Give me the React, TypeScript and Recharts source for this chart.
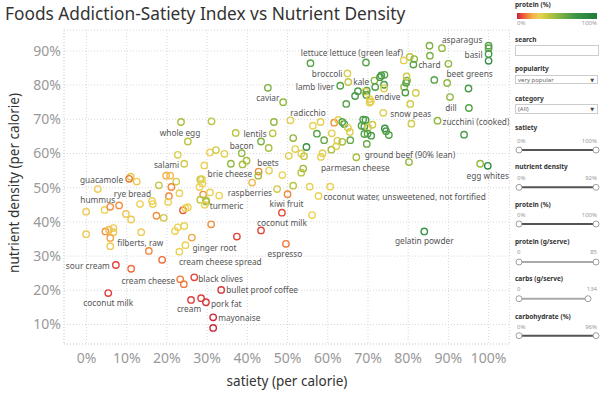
import React from 'react';
import { ScatterChart, Scatter, XAxis, YAxis, CartesianGrid } from 'recharts';

// ---------- data ----------
const X_TICKS = [0, 10, 20, 30, 40, 50, 60, 70, 80, 90, 100];
const Y_TICKS = [10, 20, 30, 40, 50, 60, 70, 80, 90];

// [name, satiety %, nutrient density %, protein %]
const labeledFoods: [string, number, number, number][] = [
  ['asparagus', 88.4, 90.8, 50],
  ['basil', 100.0, 89.1, 70],
  ['lettuce lettuce (green leaf)', 69.5, 86.6, 65],
  ['chard', 81.3, 86.0, 65],
  ['beet greens', 90.0, 86.2, 50],
  ['broccoli', 64.9, 83.4, 32],
  ['kale', 65.1, 80.9, 38],
  ['lamb liver', 63.1, 79.8, 65],
  ['caviar', 45.1, 79.2, 55],
  ['endive', 79.3, 77.8, 70],
  ['radicchio', 50.7, 69.7, 30],
  ['snow peas', 73.8, 71.9, 32],
  ['dill', 90.4, 76.5, 50],
  ['zucchini (cooked)', 87.3, 69.6, 50],
  ['whole egg', 23.5, 69.2, 45],
  ['lentils', 46.3, 65.9, 40],
  ['bacon', 38.6, 60.1, 50],
  ['salami', 24.3, 57.0, 35],
  ['beets', 45.4, 55.0, 30],
  ['brie cheese', 42.7, 53.5, 45],
  ['ground beef (90% lean)', 80.2, 57.5, 50],
  ['parmesan cheese', 67.1, 58.9, 45],
  ['egg whites', 99.8, 56.4, 85],
  ['guacamole', 10.6, 52.6, 12],
  ['hummus', 2.8, 49.6, 26],
  ['rye bread', 16.3, 46.1, 28],
  ['raspberries', 47.4, 49.6, 35],
  ['kiwi fruit', 50.0, 48.1, 14],
  ['turmeric', 29.4, 45.0, 28],
  ['coconut water, unsweetened, not fortified', 57.7, 47.6, 28],
  ['coconut milk', 48.6, 42.7, 6],
  ['filberts, raw', 5.9, 32.9, 26],
  ['ginger root', 24.6, 33.2, 28],
  ['cream cheese spread', 18.8, 28.9, 10],
  ['espresso', 49.6, 33.6, 12],
  ['gelatin powder', 84.0, 37.2, 75],
  ['sour cream', 7.3, 27.4, 5],
  ['cream cheese', 23.3, 23.2, 12],
  ['black olives', 26.8, 23.8, 5],
  ['bullet proof coffee', 33.5, 20.1, 3],
  ['coconut milk', 5.4, 19.2, 4],
  ['cream', 26.0, 17.2, 4],
  ['pork fat', 29.7, 16.5, 3],
  ['mayonaise', 31.5, 12.1, 1],
];

// [satiety %, nutrient density %, protein %]
const lowSatietyFoods: [number, number, number][] = [
  [31.1, 69.4, 40], [25.2, 63.5, 40], [22.7, 59.6, 32], [30.7, 60.3, 28], [32.2, 61.0, 35],
  [34.3, 59.9, 30], [29.3, 56.5, 28], [35.9, 57.0, 50], [38.8, 56.8, 45], [39.8, 57.9, 45],
  [37.1, 66.0, 40], [42.8, 54.7, 14], [41.2, 51.5, 20], [11.0, 53.2, 32], [12.5, 51.8, 26],
  [18.0, 50.7, 38], [19.8, 53.5, 20], [20.8, 53.5, 22], [22.3, 51.8, 34], [21.1, 50.2, 14],
  [23.1, 48.4, 28], [20.5, 47.5, 14], [28.3, 52.4, 38], [28.7, 52.5, 30], [28.1, 50.2, 28],
  [28.8, 51.2, 28], [29.0, 48.0, 15], [30.7, 48.6, 28], [33.0, 47.7, 28],
  [-0.1, 43.0, 26], [4.5, 43.5, 28], [5.9, 44.4, 15], [8.1, 44.8, 15], [9.8, 42.3, 25],
  [11.1, 40.7, 26], [13.3, 45.2, 28], [16.5, 45.2, 28], [20.3, 45.8, 28], [17.4, 41.8, 15],
  [19.2, 41.2, 36], [24.0, 43.4, 8], [24.6, 44.0, 28], [25.2, 44.3, 28], [28.3, 46.5, 40],
  [29.7, 46.3, 42], [29.8, 45.9, 45], [31.0, 39.3, 15], [-0.1, 36.4, 26], [4.7, 37.2, 16],
  [5.6, 37.7, 22], [6.7, 38.2, 26], [6.7, 37.0, 26], [5.9, 35.3, 18], [13.6, 37.0, 26],
  [15.5, 31.5, 14], [22.0, 37.3, 28], [22.7, 38.4, 28], [24.3, 38.8, 28], [26.2, 35.4, 18],
  [23.1, 31.3, 28], [37.4, 35.7, 5], [43.4, 37.5, 5], [11.1, 26.3, 10], [24.2, 21.8, 12],
  [28.5, 17.7, 4], [31.5, 9.0, 1],
];

const midSatietyFoods: [number, number, number][] = [
  [46.6, 69.2, 50], [43.4, 63.5, 55], [45.3, 61.6, 45],
  [56.1, 42.0, 28], [51.4, 50.6, 40], [55.5, 50.3, 28], [60.6, 50.3, 28],
  [55.7, 86.4, 65], [48.9, 75.0, 50], [56.3, 68.1, 28], [58.2, 69.2, 30], [61.6, 69.0, 15],
  [62.6, 69.8, 30], [57.3, 65.8, 65], [59.1, 63.9, 60], [51.4, 64.5, 50], [51.9, 61.3, 30],
  [54.7, 61.9, 75], [53.4, 60.0, 30], [54.1, 59.2, 38], [50.3, 59.3, 30], [58.7, 60.1, 30],
  [58.3, 59.0, 30], [60.9, 61.1, 45], [48.7, 53.7, 28], [53.9, 55.6, 48], [53.4, 54.4, 40],
  [61.0, 65.9, 30], [62.4, 63.7, 32], [63.6, 63.4, 45], [65.6, 63.9, 60], [62.1, 62.1, 32],
  [63.6, 69.2, 65], [64.1, 68.6, 65], [65.0, 67.5, 32], [65.5, 66.3, 32], [64.6, 74.5, 65],
];

const highSatietyFoods: [number, number, number][] = [
  [85.3, 91.5, 55], [100.0, 91.5, 65], [100.0, 90.8, 65], [100.0, 87.1, 80], [80.4, 88.2, 40],
  [81.5, 87.6, 50], [85.4, 88.6, 55], [78.9, 87.2, 30],
  [71.6, 81.3, 50], [73.0, 82.3, 70], [73.3, 82.8, 70], [74.1, 83.0, 65], [74.0, 80.1, 70],
  [74.0, 79.0, 32], [71.8, 79.4, 70], [69.7, 78.4, 65], [69.3, 78.1, 35], [67.5, 78.2, 70],
  [66.8, 76.8, 70], [69.6, 77.1, 65], [70.4, 75.9, 30], [70.7, 75.2, 30], [70.4, 74.9, 30],
  [79.0, 79.4, 50], [79.5, 80.7, 70], [79.7, 81.3, 60], [79.6, 82.5, 35], [81.9, 77.7, 35],
  [80.5, 74.5, 35], [86.5, 81.5, 65], [89.7, 80.6, 50], [95.0, 79.0, 70], [95.1, 73.3, 65],
  [68.8, 69.9, 70], [69.4, 69.8, 70], [69.1, 67.9, 70], [68.4, 68.1, 65], [70.0, 67.6, 35],
  [71.1, 68.4, 35], [74.2, 67.3, 80], [74.5, 66.5, 70], [80.8, 68.7, 35], [69.1, 65.7, 65],
  [69.9, 65.8, 65], [70.8, 65.2, 70], [75.2, 65.4, 65], [69.7, 62.8, 60], [93.9, 65.5, 70],
  [97.9, 57.0, 50],
];

// ---------- label placement (text offsets from the mark) ----------
const LABEL_PLACEMENT: Record<string, [number, number, 'start' | 'middle' | 'end']> = {
  'asparagus': [0, -9, 'start'],
  'basil': [-6, 1, 'end'],
  'lettuce lettuce (green leaf)': [-14, -10, 'middle'],
  'chard': [5, 0, 'start'],
  'beet greens': [-2, 10, 'start'],
  'broccoli': [-5, 0, 'end'],
  'kale': [5, 0, 'start'],
  'lamb liver': [-6, 1, 'end'],
  'caviar': [0, 10, 'middle'],
  'endive': [-5, 4, 'end'],
  'radicchio': [0, -8, 'start'],
  'snow peas': [7, 1, 'start'],
  'dill': [1, 10, 'middle'],
  'zucchini (cooked)': [5, 1, 'start'],
  'whole egg': [-1, 10, 'middle'],
  'lentils': [-6, 0, 'end'],
  'bacon': [0, -8, 'middle'],
  'salami': [-5, 1, 'end'],
  'beets': [-1, -8.5, 'middle'],
  'brie cheese': [-6, -2, 'end'],
  'ground beef (90% lean)': [1, -8, 'middle'],
  'parmesan cheese': [-1, 10, 'middle'],
  'egg whites': [0, 10, 'middle'],
  'guacamole': [-6, 1, 'end'],
  'hummus': [0, 10, 'middle'],
  'rye bread': [-1, -8, 'end'],
  'raspberries': [-5, 3, 'end'],
  'kiwi fruit': [-1, 9.5, 'middle'],
  'turmeric': [5, 1, 'start'],
  'coconut water, unsweetened, not fortified': [5, 1, 'start'],
  'coconut milk': [0, 9.5, 'middle'],
  'filberts, raw': [7, -4, 'start'],
  'ginger root': [7, 2, 'start'],
  'cream cheese spread': [17, 2, 'start'],
  'espresso': [-1, 10, 'middle'],
  'gelatin powder': [0, 9.5, 'middle'],
  'sour cream': [-6, 1, 'end'],
  'cream cheese': [-5, 1, 'end'],
  'black olives': [4, 1, 'start'],
  'bullet proof coffee': [5, 0, 'start'],
  'cream': [-2, 9, 'middle'],
  'pork fat': [5, 1, 'start'],
  'mayonaise': [5, 0, 'start'],
};

// ---------- colour scale for protein % ----------
const PROTEIN_STOPS: [number, string][] = [
  [0, '#c81e3c'], [5, '#e2463a'], [10, '#ee6c3a'], [15, '#f29040'], [20, '#f3b54a'],
  [28, '#ebd256'], [35, '#d0cb48'], [42, '#b3c240'], [50, '#92b93f'], [62, '#5fa748'],
  [75, '#3a9446'], [100, '#1f7a3c'],
];
const hex = (h: string) => [1, 3, 5].map((i) => parseInt(h.slice(i, i + 2), 16));
function proteinColor(p: number): string {
  for (let i = 1; i < PROTEIN_STOPS.length; i++) {
    const [p1, c1] = PROTEIN_STOPS[i];
    const [p0, c0] = PROTEIN_STOPS[i - 1];
    if (p <= p1) {
      const t = Math.max(0, (p - p0) / (p1 - p0));
      const a = hex(c0), b = hex(c1);
      const m = a.map((v, k) => Math.round(v + (b[k] - v) * t));
      return `rgb(${m[0]},${m[1]},${m[2]})`;
    }
  }
  return PROTEIN_STOPS[PROTEIN_STOPS.length - 1][1];
}

const FONT = '"Noto Sans", "DejaVu Sans", sans-serif';

const pointData = [
  ...[...lowSatietyFoods, ...midSatietyFoods, ...highSatietyFoods].map(([s, d, p]) => ({ s, d, p, name: '' })),
  ...labeledFoods.map(([name, s, d, p]) => ({ s, d, p, name })),
];
const labelData = labeledFoods.map(([name, s, d, p]) => ({ s, d, p, name }));

const Ring = (props: any) => {
  const { cx, cy, payload } = props;
  if (cx == null || cy == null) return <g />;
  return <circle cx={cx} cy={cy} r={3.2} fill="none" stroke={proteinColor(payload.p)} strokeWidth={1.4} />;
};

const FoodLabel = (props: any) => {
  const { cx, cy, payload } = props;
  if (cx == null || cy == null) return <g />;
  const [dx, dy, anchor] = LABEL_PLACEMENT[payload.name] ?? [0, -8, 'middle'];
  return (
    <text x={cx + dx} y={cy + dy} textAnchor={anchor} dominantBaseline="central"
      fontSize={8.3} fill="#555" fontFamily={FONT}>
      {payload.name}
    </text>
  );
};

// ---------- right panel ----------
const panelTitle: React.CSSProperties = { position: 'absolute', left: 515, fontSize: 6.5, fontWeight: 700, color: '#333', lineHeight: '8px', whiteSpace: 'nowrap' };
const small: React.CSSProperties = { position: 'absolute', fontSize: 6, color: '#999', lineHeight: '8px', whiteSpace: 'nowrap' };

function Title({ y, text }: { y: number; text: string }) {
  return <div style={{ ...panelTitle, top: y - 4 }}>{text}</div>;
}
function Range({ y, lo, hi }: { y: number; lo: string; hi: string }) {
  return (
    <>
      <div style={{ ...small, left: 517, top: y - 4 }}>{lo}</div>
      <div style={{ ...small, right: 602 - 597, top: y - 4 }}>{hi}</div>
    </>
  );
}
function Slider({ y, light, end = 596 }: { y: number; light?: boolean; end?: number }) {
  return (
    <svg style={{ position: 'absolute', left: 0, top: 0, overflow: 'visible' }} width={602} height={393}>
      <line x1={519} x2={end} y1={y} y2={y} stroke={light ? '#aaa' : '#555'} strokeWidth={2} />
      <circle cx={519} cy={y} r={3} fill="#fff" stroke="#888" strokeWidth={0.8} />
      <circle cx={end} cy={y} r={3} fill="#fff" stroke="#888" strokeWidth={0.8} />
    </svg>
  );
}
function Dropdown({ y, text }: { y: number; text: string }) {
  return (
    <div style={{ position: 'absolute', left: 515, top: y, width: 83, height: 9.5, border: '1px solid #ccc', boxSizing: 'border-box', background: '#fff' }}>
      <div style={{ ...small, left: 2, top: 0, color: '#666' }}>{text}</div>
      <div style={{ ...small, right: 3, top: 0, color: '#444', fontSize: 5 }}>▼</div>
    </div>
  );
}

const gradient = `linear-gradient(to right, ${PROTEIN_STOPS.map(([p, c]) => `${c} ${p}%`).join(', ')})`;

export default function App() {
  return (
    <div style={{ position: 'absolute', left: 0, top: 0, width: 602, height: 393, background: '#fff', fontFamily: FONT, overflow: 'hidden' }}>
      <div style={{ position: 'absolute', left: 5, top: 3, fontSize: 17.3, lineHeight: '22px', color: '#333', whiteSpace: 'nowrap' }}>
        Foods Addiction-Satiety Index vs Nutrient Density
      </div>
      <div style={{ position: 'absolute', left: 0, top: 0 }}>
        <ScatterChart width={602} height={393} margin={{ top: 30, right: 92.5, bottom: 0, left: 0 }}>
          <CartesianGrid stroke="#d8d8d8" strokeDasharray="1 2" />
          <XAxis type="number" dataKey="s" domain={[-5.6, 105.2]} ticks={X_TICKS} allowDataOverflow
            tickFormatter={(v: number) => `${v}%`} height={49} tickSize={0} tickMargin={9}
            tick={{ fill: '#999', fontSize: 14, fontFamily: FONT }}
            axisLine={{ stroke: '#d8d8d8', strokeDasharray: '1 2' }} tickLine={false} interval={0} />
          <YAxis type="number" dataKey="d" domain={[4.3, 96.1]} ticks={Y_TICKS} allowDataOverflow
            tickFormatter={(v: number) => `${v}%`} width={64} tickSize={0} tickMargin={3}
            tick={{ fill: '#999', fontSize: 14, fontFamily: FONT }}
            axisLine={{ stroke: '#d8d8d8', strokeDasharray: '1 2' }} tickLine={false} interval={0} />
          <Scatter data={pointData} shape={Ring} isAnimationActive={false} />
          <Scatter data={labelData} shape={FoodLabel} isAnimationActive={false} />
        </ScatterChart>
      </div>
      <div style={{ position: 'absolute', left: 287, top: 381, transform: 'translate(-50%, -50%)', fontSize: 13.5, color: '#333', whiteSpace: 'nowrap' }}>
        satiety (per calorie)
      </div>
      <div style={{ position: 'absolute', left: 14, top: 183, transform: 'translate(-50%, -50%) rotate(-90deg)', fontSize: 13.5, color: '#333', whiteSpace: 'nowrap' }}>
        nutrient density (per calorie)
      </div>

      {/* filter / legend panel */}
      <Title y={4.5} text="protein (%)" />
      <div style={{ position: 'absolute', left: 517, top: 12.5, width: 80, height: 6, background: gradient }} />
      <Range y={23} lo="0%" hi="100%" />
      <Title y={40} text="search" />
      <div style={{ position: 'absolute', left: 515, top: 45, width: 84, height: 10.5, border: '1px solid #ccc', boxSizing: 'border-box' }} />
      <Title y={69.3} text="popularity" />
      <Dropdown y={74.5} text="very popular" />
      <Title y={99} text="category" />
      <Dropdown y={104.3} text="(All)" />
      <Title y={128} text="satiety" />
      <Range y={140.7} lo="0%" hi="100%" />
      <Slider y={150} />
      <Title y={167} text="nutrient density" />
      <Range y={177.7} lo="0%" hi="92%" />
      <Slider y={187.3} />
      <Title y={205.3} text="protein (%)" />
      <Range y={215.3} lo="0%" hi="100%" />
      <Slider y={224} />
      <Title y={242} text="protein (g/serve)" />
      <Range y={252.3} lo="0" hi="85" />
      <Slider y={262} light />
      <Title y={279} text="carbs (g/serve)" />
      <Range y={289.3} lo="0" hi="134" />
      <Slider y={298.7} light end={588} />
      <Title y={317} text="carbohydrate (%)" />
      <Range y={327.3} lo="0%" hi="96%" />
      <Slider y={335.7} />
    </div>
  );
}
